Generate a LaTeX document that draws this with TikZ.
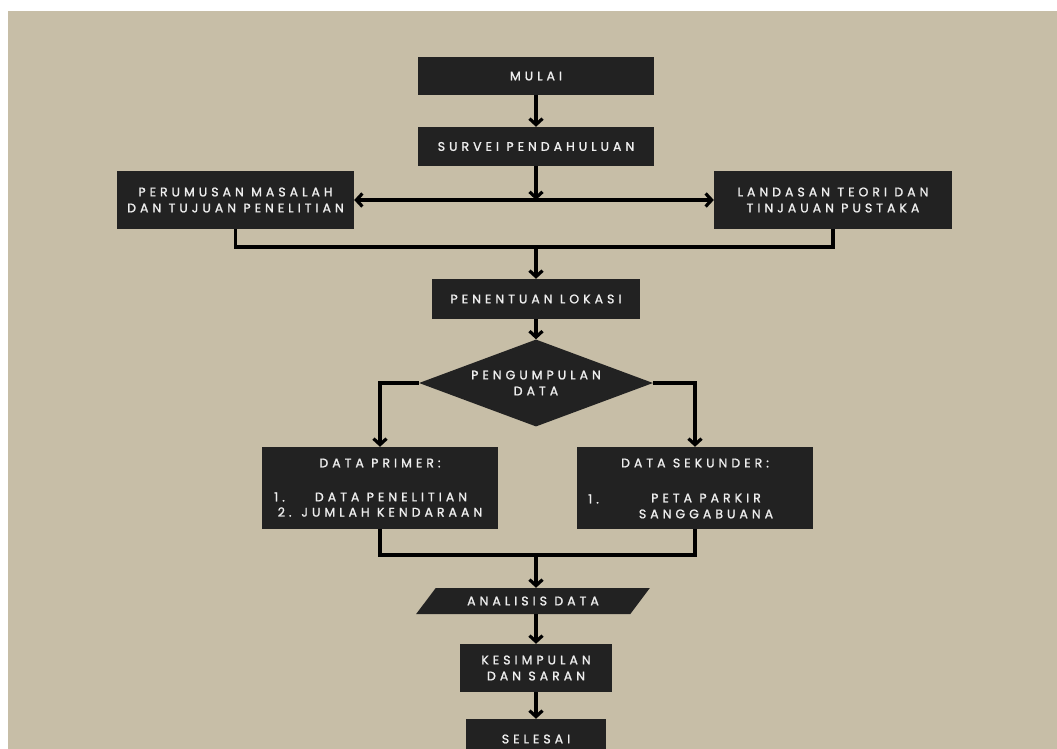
\documentclass[tikz,border=0pt]{standalone}
\usepackage{fontspec}
\newfontfamily\lbl[LetterSpace=32,FakeBold=1.3]{Poppins}
\usetikzlibrary{arrows.meta,shapes.geometric}
\definecolor{bg}{HTML}{C7BEA7}
\definecolor{boxc}{HTML}{222222}
\definecolor{txt}{HTML}{EEEEEE}
\tikzset{
  lbltext/.style={text=txt, font=\lbl\fontsize{12.5}{16}\selectfont, align=center, inner sep=0pt},
  box/.style={fill=boxc, lbltext},
  conn/.style={line width=3.2pt, draw=black},
  tip/.tip={Straight Barb[length=6pt,width=13pt]},
  arr/.style={conn, -tip},
}
\begin{document}
\begin{tikzpicture}[x=1pt,y=-1pt]
\useasboundingbox (0,0) rectangle (1057,749);
\fill[white] (0,0) rectangle (1057,749);
\fill[bg] (8,11) rectangle (1057,749);

\node[box, minimum width=236, minimum height=38] (mulai) at (536,76) {MULAI};
\node[box, minimum width=236, minimum height=39] (survei) at (536,146.5) {SURVEI PENDAHULUAN};
\node[box, minimum width=237, minimum height=58] (rumus) at (235.5,200) {PERUMUSAN MASALAH\\DAN TUJUAN PENELITIAN};
\node[box, minimum width=238, minimum height=58] (landasan) at (833,200) {LANDASAN TEORI DAN\\TINJAUAN PUSTAKA};
\node[box, minimum width=208, minimum height=40] (lokasi) at (536,299) {PENENTUAN LOKASI};
\node[box, shape=diamond, aspect=2.7, minimum width=234, minimum height=87] (kumpul) at (536,383) {PENGUMPULAN\\DATA};

\node[box, minimum width=236, minimum height=82] (primer) at (380,488) {};
\node[box, minimum width=236, minimum height=82] (sekunder) at (695,488) {};
\node[lbltext] (primerT) at (380,463) {DATA PRIMER:};
\node[lbltext, anchor=west] (p1) at (274,497) {1.};
\node[lbltext] (p1t) at (391,497) {DATA PENELITIAN};
\node[lbltext] (p2) at (380,512) {2. JUMLAH KENDARAAN};
\node[lbltext] (sekT) at (695,463) {DATA SEKUNDER:};
\node[lbltext, anchor=west] (s1) at (588,499) {1.};
\node[lbltext] (s1t) at (706,506) {PETA PARKIR\\SANGGABUANA};

\node[box, shape=trapezium, trapezium left angle=34, trapezium right angle=146,
      trapezium stretches=true, minimum width=234, minimum height=26] (analisis) at (533,601) {ANALISIS DATA};
\node[box, minimum width=152, minimum height=48] (simpul) at (536,668) {KESIMPULAN\\DAN SARAN};
\node[box, minimum width=140, minimum height=40] (selesai) at (536,739) {SELESAI};

\coordinate (j1) at (536,200);
\coordinate (j2) at (536,247);
\coordinate (j3) at (536,555);

\draw[arr] (mulai) -- (survei);
\draw[arr] (survei) -- (j1);
\draw[conn, tip-tip] (rumus) -- (landasan);
\draw[conn] (rumus.south) |- (j2) -| (landasan.south);
\draw[arr] (j2) -- (lokasi);
\draw[arr] (lokasi) -- (kumpul);
\draw[arr] (kumpul.west) -| (primer.north);
\draw[arr] (kumpul.east) -| (sekunder.north);
\draw[conn] (primer.south) |- (j3) -| (sekunder.south);
\draw[arr] (j3) -- (j3 |- analisis.north);
\draw[arr] (analisis.south -| simpul) -- (simpul.north);
\draw[arr] (simpul) -- (selesai);
\end{tikzpicture}
\end{document}
